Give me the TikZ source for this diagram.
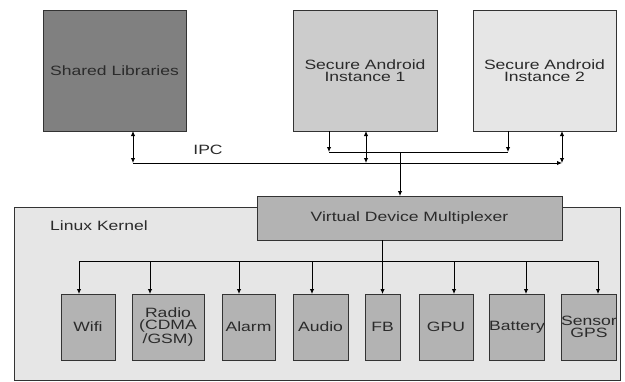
\documentclass[tikz,border=0pt]{standalone}
\usepackage{fontspec}
\setmainfont{Liberation Sans}
\newfontfamily\diafont[FakeStretch=1.3]{Liberation Sans}
\usetikzlibrary{arrows.meta}
\definecolor{txt}{HTML}{2B2B2B}
\definecolor{edge}{HTML}{333333}
\definecolor{dark}{HTML}{808080}
\definecolor{mid}{HTML}{CCCCCC}
\definecolor{light}{HTML}{E6E6E6}
\definecolor{dev}{HTML}{B3B3B3}
\begin{document}
\begin{tikzpicture}[x=1pt,y=-1pt,
  box/.style={draw=edge,line width=0.9pt,inner sep=0pt,outer sep=0pt,rectangle,
    align=center,text=txt,font=\diafont\fontsize{13.5}{12.5}\selectfont},
  conn/.style={line width=0.9pt,black},
  tip/.style={-{Latex[length=5pt,width=4.5pt]}},
  dtip/.style={{Latex[length=5pt,width=4.5pt]}-{Latex[length=5pt,width=4.5pt]}},
  lbl/.style={text=txt,font=\diafont\fontsize{13.5}{12.5}\selectfont,inner sep=0pt}]
\useasboundingbox (0,0) rectangle (625,381);
% top boxes
\node[box,fill=dark,minimum width=143pt,minimum height=121pt] (SL) at (114.5,70.5) {Shared Libraries};
\node[box,fill=mid,minimum width=144pt,minimum height=121pt] (I1) at (365,70.5) {Secure Android\\Instance 1};
\node[box,fill=light,minimum width=143pt,minimum height=121pt] (I2) at (544.5,70.5) {Secure Android\\Instance 2};
% kernel
\node[box,fill=light,minimum width=606pt,minimum height=173pt] (LK) at (317,293.5) {};
\node[lbl,anchor=west] (LKl) at (50,226) {Linux Kernel};
\node[box,fill=dev,minimum width=305pt,minimum height=44pt] (VDM) at (409.5,218) {Virtual Device Multiplexer};
% devices
\node[box,fill=dev,minimum width=54pt,minimum height=66pt] (wifi) at (88,327) {Wifi};
\node[box,fill=dev,minimum width=72pt,minimum height=66pt] (radio) at (168,327) {Radio\\(CDMA\\/GSM)};
\node[box,fill=dev,minimum width=53pt,minimum height=66pt] (alarm) at (248.5,327) {Alarm};
\node[box,fill=dev,minimum width=55pt,minimum height=66pt] (audio) at (320.5,327) {Audio};
\node[box,fill=dev,minimum width=35pt,minimum height=66pt] (fb) at (382.5,327) {FB};
\node[box,fill=dev,minimum width=54pt,minimum height=66pt] (gpu) at (446,327) {GPU};
\node[box,fill=dev,minimum width=54pt,minimum height=66pt] (bat) at (517,327) {Battery};
\node[box,fill=dev,minimum width=54pt,minimum height=66pt] (sen) at (589,327) {Sensor\\GPS};
% IPC bus
\coordinate (ipcL) at (133,163);
\coordinate (ipcR) at (562,163);
\coordinate (ipcM) at (366,163);
\node[lbl] (ipc) at (208,150) {IPC};
\draw[conn,dtip] (ipcL |- SL.south) -- (ipcL);
\draw[conn,tip] (ipcL) -- (ipcR);
\draw[conn,dtip] (ipcM |- I1.south) -- (ipcM);
\draw[conn,dtip] (ipcR |- I2.south) -- (ipcR);
% device request line
\coordinate (reqL) at (329,152);
\coordinate (reqR) at (508,152);
\coordinate (reqM) at (400,152);
\draw[conn,tip] (reqL |- I1.south) -- (reqL);
\draw[conn,tip] (reqR |- I2.south) -- (reqR);
\draw[conn] (reqL) -- (reqR);
\draw[conn,tip] (reqM) -- (reqM |- VDM.north);
% device bus
\coordinate (busL) at (79,261);
\coordinate (busR) at (598,261);
\draw[conn] (busL) -- (busR);
\draw[conn,tip] (VDM.south -| fb.north) -- (fb.north);
\draw[conn,tip] (busL) -- (busL |- wifi.north);
\draw[conn,tip] (150,261) -- (radio.north -| 150,0);
\draw[conn,tip] (239,261) -- (alarm.north -| 239,0);
\draw[conn,tip] (312,261) -- (audio.north -| 312,0);
\draw[conn,tip] (454,261) -- (gpu.north -| 454,0);
\draw[conn,tip] (526,261) -- (bat.north -| 526,0);
\draw[conn,tip] (busR) -- (busR |- sen.north);
\end{tikzpicture}
\end{document}
